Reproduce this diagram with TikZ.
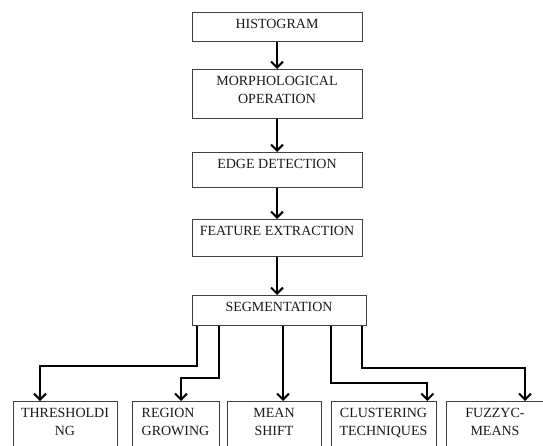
\documentclass[tikz,border=0pt]{standalone}
\usepackage{fontspec}
\setmainfont{Liberation Serif}
\usetikzlibrary{arrows.meta}

\begin{document}
\begin{tikzpicture}[x=1bp, y=1bp,
  font=\fontsize{14bp}{17.5bp}\selectfont,
  stage/.style={draw=black!75, line width=0.8bp, anchor=north, align=center,
    inner xsep=2bp, inner ysep=7bp, text=black!90},
  flow/.style={line width=2bp, -{Straight Barb[length=6bp, width=12bp]}}]

\useasboundingbox (0,0) rectangle (543,-446);
\clip (0,0) rectangle (543,-446);

% Main chain
\node[stage, minimum width=170bp, text depth=6bp]  (hist)  at (277,-12)  {HISTOGRAM};
\node[stage, minimum width=170bp, text depth=8bp]  (morph) at (277,-69)  {MORPHOLOGICAL\\OPERATION};
\node[stage, minimum width=170bp, text depth=12bp] (edge)  at (277,-152) {EDGE DETECTION};
\node[stage, minimum width=170bp, text depth=14bp] (feat)  at (277,-219) {FEATURE EXTRACTION};
\node[stage, minimum width=174bp, text depth=7bp]  (seg)   at (279,-295) {SEGMENTATION};

\draw[flow] (hist.south) -- (morph.north);
\draw[flow] (morph.south) -- (edge.north);
\draw[flow] (edge.south) -- (feat.north);
\draw[flow] (feat.south) -- (feat.south |- seg.north);

% Segmentation methods
\node[stage, minimum width=104bp, text depth=12bp] (thr)   at (65,-401)    {THRESHOLDI\\NG};
\node[stage, minimum width=87bp,  text depth=12bp, align=left] (reg) at (175.5,-401) {REGION\\GROWING};
\node[stage, minimum width=94bp,  text depth=12bp] (mean)  at (274,-401)   {MEAN\\SHIFT};
\node[stage, minimum width=105bp, text depth=12bp] (clus)  at (383.5,-401) {CLUSTERING\\TECHNIQUES};
\node[stage, minimum width=98bp,  text depth=12bp] (fuzzy) at (495,-401)   {FUZZYC-\\MEANS};

\draw[flow] ([xshift=5bp]seg.south west) -- ++(0,-40) -| ([xshift=-25bp]thr.north);
\draw[flow] ([xshift=27bp]seg.south west) -- ++(0,-52) -| ([xshift=5.5bp]reg.north);
\draw[flow] ([xshift=9bp]mean.north |- seg.south) -- ([xshift=9bp]mean.north);
\draw[flow] ([xshift=-35bp]seg.south east) -- ++(0,-57) -| ([xshift=-9bp]clus.north east);
\draw[flow] ([xshift=-4bp]seg.south east) -- ++(0,-42) -| ([xshift=30bp]fuzzy.north);

\end{tikzpicture}
\end{document}
